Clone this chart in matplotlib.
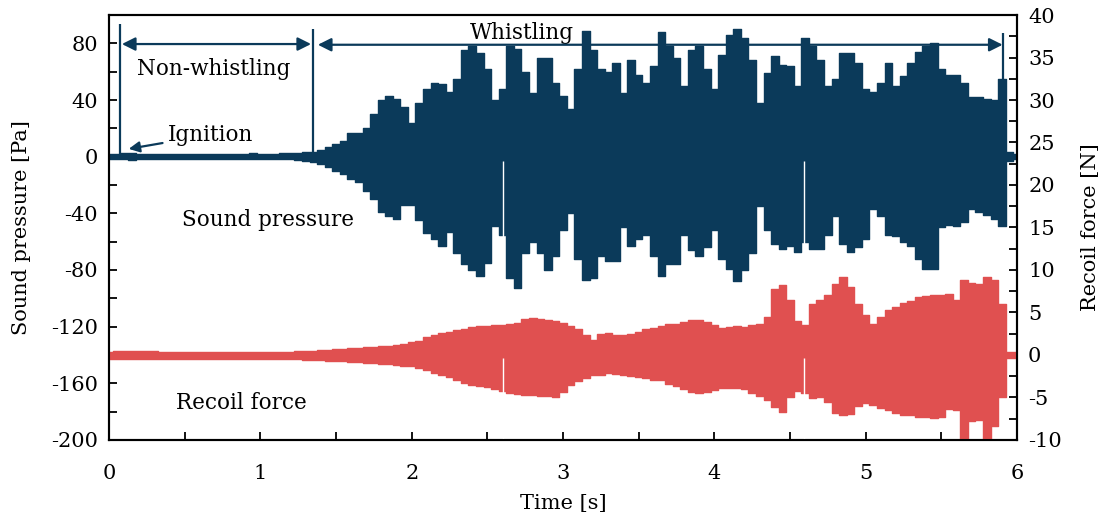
import numpy as np
import matplotlib
matplotlib.use("Agg")
import matplotlib.pyplot as plt
from matplotlib.ticker import MultipleLocator

plt.rcParams.update({
    "font.family": "DejaVu Serif", "font.size": 15,
    "axes.unicode_minus": False, "axes.linewidth": 1.5,
    "xtick.direction": "in", "ytick.direction": "in",
    "xtick.major.size": 6, "ytick.major.size": 6,
    "xtick.minor.size": 6, "ytick.minor.size": 6,
    "xtick.major.width": 1.3, "ytick.major.width": 1.3,
    "xtick.minor.width": 1.3, "ytick.minor.width": 1.3,
})

NAVY = "#0b3a5a"
RED = "#e05050"

# time grid of the envelope samples [s]
T = np.round(np.arange(0, 6.001, 0.05), 2)

# sound pressure envelope [Pa] (upper / lower)
SP_HI = [2, 2, 2.5, 2.5, 2, 2, 2, 2, 2, 2,
         2, 2, 2, 2, 2, 2, 2, 2, 2, 2.5,
         2, 2, 2, 2.5, 2.5, 2.5, 3, 3.5, 5, 7,
         9, 11, 17, 17, 20, 30, 40, 43, 41, 35,
         24, 38, 48, 52, 51, 46, 55, 75, 78, 73,
         62, 40, 48, 78, 76, 60, 45, 70, 70, 52,
         43, 34, 62, 89, 75, 62, 60, 66, 45, 68,
         58, 52, 64, 88, 78, 70, 50, 75, 78, 62,
         48, 72, 86, 90, 84, 68, 38, 59, 71, 65,
         64, 50, 84, 78, 68, 50, 55, 73, 73, 66,
         48, 46, 52, 66, 50, 57, 66, 74, 78, 80,
         62, 58, 58, 52, 42, 42, 41, 40, 55, 3,
         2]
SP_LO = [-2, -2, -2, -2.5, -2, -2, -2, -2, -2, -2,
         -2, -2, -2, -2, -2, -2, -2, -2, -2, -2,
         -2, -2, -2, -2, -2, -2.5, -3, -4, -5, -7,
         -10, -12, -16, -18, -24, -30, -39, -42, -44, -34,
         -34, -45, -54, -58, -63, -53, -68, -76, -80, -84,
         -75, -49, -55, -86, -93, -68, -60, -68, -80, -70,
         -52, -40, -72, -87, -86, -70, -74, -74, -50, -63,
         -58, -55, -70, -84, -76, -76, -55, -66, -70, -64,
         -52, -72, -79, -88, -80, -68, -35, -52, -62, -65,
         -63, -67, -60, -65, -65, -55, -42, -62, -67, -64,
         -58, -37, -42, -55, -56, -60, -63, -72, -79, -79,
         -50, -48, -49, -46, -37, -39, -41, -44, -49, -3,
         -2]

# recoil force envelope [N] (upper / lower)
RF_HI = [0.4, 0.5, 0.5, 0.5, 0.5, 0.5, 0.5, 0.4, 0.4, 0.4,
         0.4, 0.4, 0.4, 0.4, 0.4, 0.4, 0.4, 0.4, 0.4, 0.4,
         0.4, 0.4, 0.4, 0.4, 0.4, 0.45, 0.5, 0.5, 0.55, 0.6,
         0.65, 0.7, 0.8, 0.85, 0.9, 0.95, 1.0, 1.05, 1.15, 1.3,
         1.5, 1.7, 2.1, 2.4, 2.6, 2.7, 2.9, 3.1, 3.3, 3.4,
         3.4, 3.5, 3.5, 3.7, 3.8, 4.2, 4.3, 4.2, 4.1, 4.0,
         3.8, 3.4, 3.0, 2.4, 1.8, 2.5, 2.6, 2.3, 2.4, 2.5,
         2.7, 3.0, 3.2, 3.4, 3.6, 3.7, 3.9, 4.1, 4.1, 3.9,
         3.5, 3.2, 3.3, 3.4, 3.3, 3.5, 3.6, 4.5, 7.8, 8.2,
         6.5, 4.0, 3.5, 6.0, 6.5, 7.0, 8.4, 9.2, 8.0, 6.0,
         4.7, 3.6, 4.5, 5.3, 5.6, 6.1, 6.3, 6.8, 6.9, 7.0,
         7.0, 7.2, 6.5, 8.8, 8.5, 8.4, 9.2, 8.8, 6.0, 0.4,
         0.4]
RF_LO = [-0.5, -0.5, -0.5, -0.5, -0.5, -0.5, -0.5, -0.5, -0.5, -0.5,
         -0.5, -0.5, -0.5, -0.5, -0.5, -0.5, -0.5, -0.5, -0.5, -0.5,
         -0.5, -0.5, -0.5, -0.5, -0.5, -0.5, -0.55, -0.6, -0.6, -0.65,
         -0.7, -0.75, -0.8, -0.85, -0.9, -1.0, -1.05, -1.1, -1.2, -1.25,
         -1.35, -1.5, -1.8, -2.1, -2.4, -2.6, -2.9, -3.3, -3.5, -3.7,
         -3.8, -4.0, -4.2, -4.5, -4.6, -4.7, -4.7, -4.8, -4.8, -4.9,
         -4.3, -3.5, -3.1, -2.7, -2.4, -2.3, -2.1, -2.2, -2.4, -2.5,
         -2.6, -2.7, -2.9, -3.0, -3.4, -3.7, -4.0, -4.4, -4.5, -4.3,
         -4.1, -3.9, -3.9, -3.9, -4.0, -4.5, -4.8, -5.3, -6.1, -6.7,
         -5.0, -4.2, -4.5, -5.1, -5.0, -5.5, -6.8, -7.1, -6.9, -6.0,
         -5.7, -5.9, -6.2, -6.5, -6.8, -7.1, -7.1, -7.3, -7.3, -7.4,
         -7.3, -6.3, -6.5, -10.0, -7.8, -7.7, -10.0, -8.4, -5.0, -0.4,
         -0.4]

# momentary drop-outs of the signal (thin white gaps)
GAP_T = [2.605, 4.59]
SP_GAP = (-100, -3)
RF_GAP = (-10, -0.3)

# regime markers
T_IGN, T_WHISTLE, T_END = 0.075, 1.345, 5.91

fig = plt.figure(figsize=(11.07, 5.21), dpi=100)
ax = fig.add_axes([0.0985, 0.1555, 0.8202, 0.8157])
ax2 = ax.twinx()

ax.fill_between(T, SP_LO, SP_HI, step="mid", color=NAVY, lw=1.0, edgecolor=NAVY, zorder=2)
ax.vlines(GAP_T, *SP_GAP, color="white", lw=1.0, zorder=2.1)
ax2.fill_between(T, RF_LO, RF_HI, step="mid", color=RED, lw=1.0, edgecolor=RED, zorder=2)
ax2.vlines(GAP_T, *RF_GAP, color="white", lw=1.0, zorder=2.1)

ax.set_xlim(0, 6)
ax.set_ylim(-200, 100)
ax2.set_ylim(-10, 40)
ax.xaxis.set_major_locator(MultipleLocator(1))
ax.xaxis.set_minor_locator(MultipleLocator(0.5))
ax.yaxis.set_major_locator(MultipleLocator(40))
ax.yaxis.set_minor_locator(MultipleLocator(20))
ax2.yaxis.set_major_locator(MultipleLocator(5))
ax2.yaxis.set_minor_locator(MultipleLocator(2.5))
ax.set_yticks(np.arange(-200, 81, 40))
ax.tick_params(axis="x", pad=17)
ax.tick_params(axis="y", pad=8)
ax2.tick_params(axis="y", pad=8)
for a in (ax, ax2):
    for s in a.spines.values():
        s.set_linewidth(1.5)

ax.set_xlabel("Time [s]", labelpad=8)
ax.set_ylabel("Sound pressure [Pa]", labelpad=14)
ax2.set_ylabel("Recoil force [N]", labelpad=14)

# regime annotations
ax.vlines([T_IGN], 0, 93.5, color=NAVY, lw=1.6, zorder=4)
ax.vlines([T_WHISTLE], 0, 90, color=NAVY, lw=1.6, zorder=4)
ax.vlines([T_END], 0, 87, color=NAVY, lw=1.6, zorder=4)
arr = dict(arrowstyle="<|-|>", color=NAVY, lw=1.6, mutation_scale=20, shrinkA=0, shrinkB=0)
ax.annotate("", xy=(T_IGN + 0.01, 79.5), xytext=(T_WHISTLE - 0.01, 79.5), arrowprops=arr, zorder=4)
ax.annotate("", xy=(T_WHISTLE + 0.035, 79), xytext=(T_END - 0.005, 79), arrowprops=arr, zorder=4)
ax.text(0.69, 62, "Non-whistling", ha="center", va="center", fontsize=15.5)
ax.text(2.73, 87, "Whistling", ha="center", va="center", fontsize=15.5)
ax.annotate("Ignition", xy=(0.13, 5.5), xytext=(0.39, 15.5), ha="left", va="center", fontsize=15.5,
            arrowprops=dict(arrowstyle="-|>", color=NAVY, lw=1.6, mutation_scale=16,
                            shrinkA=2, shrinkB=0))
ax.text(1.05, -45, "Sound pressure", ha="center", va="center", fontsize=15.5)
ax.text(0.875, -174, "Recoil force", ha="center", va="center", fontsize=15.5)

fig.savefig("out.png", dpi=100)
